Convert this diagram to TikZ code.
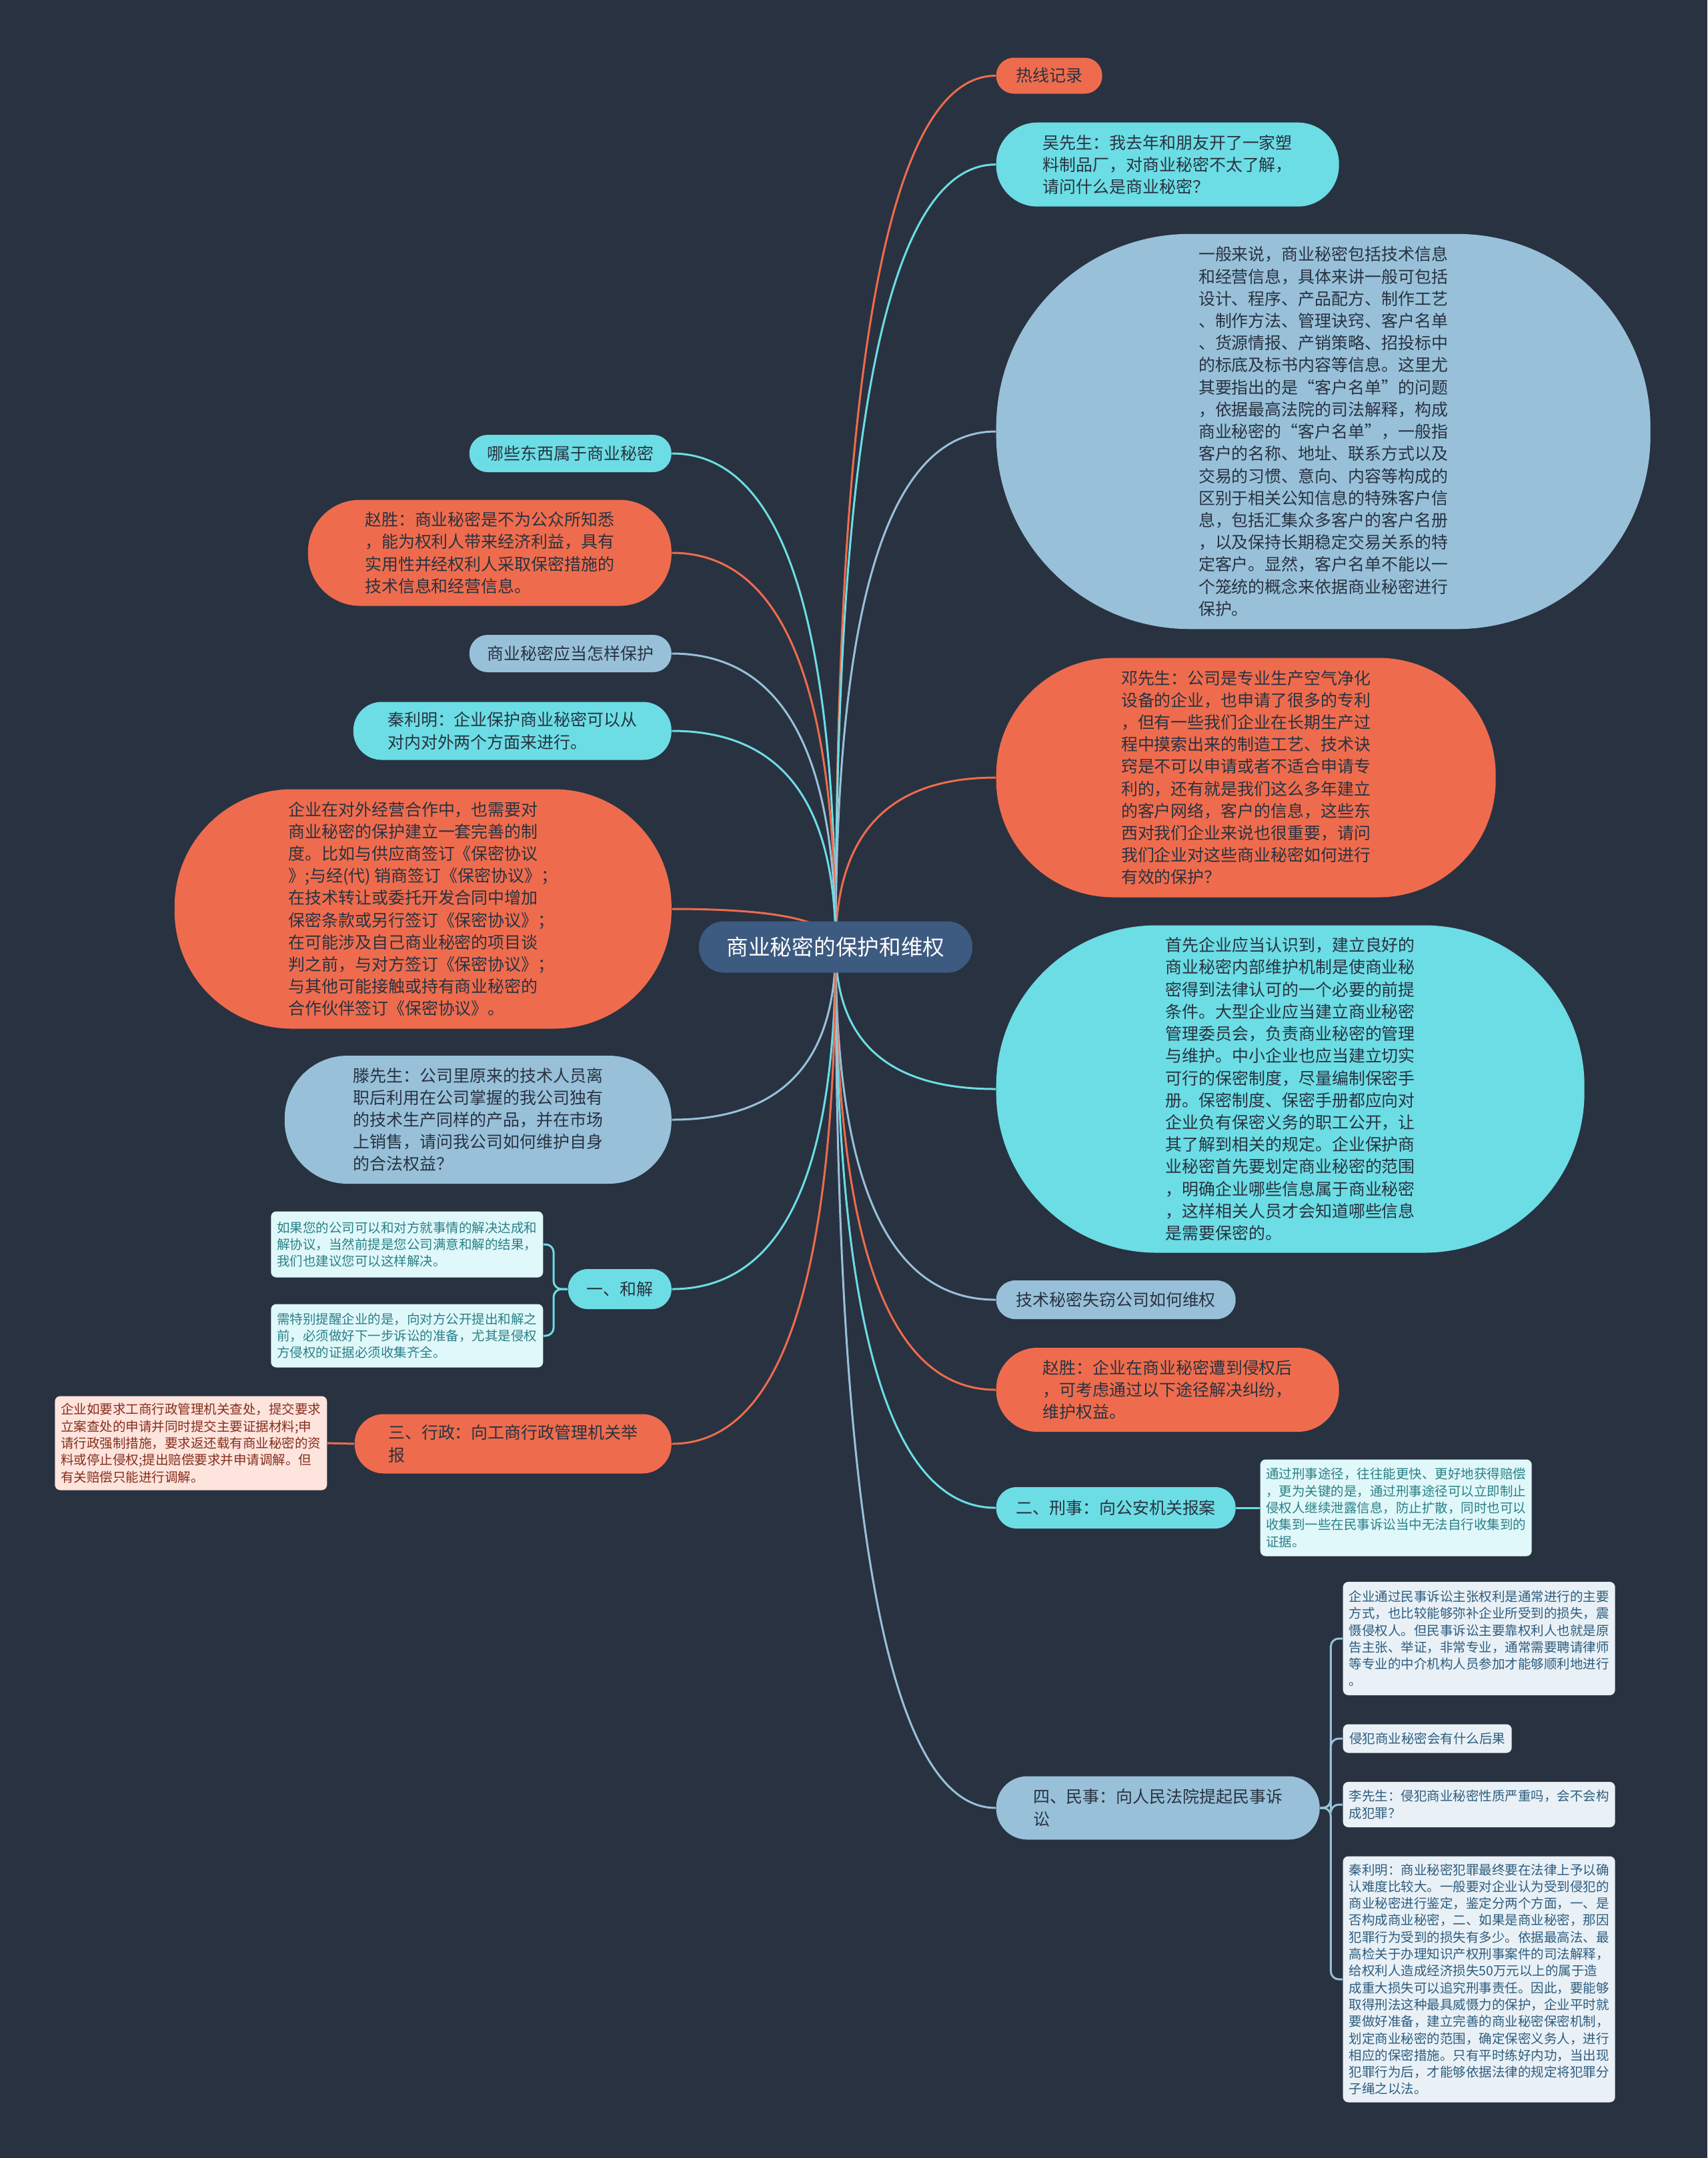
\documentclass[tikz,border=0pt]{standalone}
\usepackage{fontspec}
\setmainfont{Noto Sans CJK SC}
\usetikzlibrary{calc,backgrounds}

\definecolor{gunmetal}{HTML}{293241}
\definecolor{sienna}{HTML}{EE6C4D}
\definecolor{aqua}{HTML}{6CDDE4}
\definecolor{cerul}{HTML}{98C1D9}
\definecolor{bdazz}{HTML}{3D5A80}
\definecolor{ink}{HTML}{293241}
\definecolor{aqualt}{HTML}{E0F8FA}
\definecolor{aquatx}{HTML}{2A8087}
\definecolor{sienlt}{HTML}{FDE4DD}
\definecolor{sientx}{HTML}{862E1C}
\definecolor{cerult}{HTML}{E9F1F7}
\definecolor{cerutx}{HTML}{2E5D7E}

\newcommand\bubfont{\fontsize{7.1pt}{9.45pt}\selectfont}
\newcommand\leaffont{\fontsize{5.55pt}{7.2pt}\selectfont}
\newcommand\rootfont{\fontsize{9.3pt}{11pt}\selectfont}

\tikzset{
  bub/.style 2 args={fill=#1, text=ink, font=\bubfont, align=left, inner sep=0pt,
    minimum height=#2mm, rounded corners=#2*0.49mm},
  leaf/.style 2 args={fill=#1, text=#2, font=\leaffont, align=left, inner sep=0pt,
    rounded corners=0.8mm},
  link/.style={draw=#1, line width=0.3mm},
}

\begin{document}
\begin{tikzpicture}[x=1mm, y=-1mm]
 \useasboundingbox (0,0) rectangle (256,323.6);

 % centre
 \node[fill=bdazz, text=white, font=\rootfont, inner sep=0pt, minimum width=41mm,
   minimum height=7.7mm, rounded corners=3.75mm] (root) at (125.3,142) {商业秘密的保护和维权};

 % right branch
 \node[bub={sienna}{5.4}, minimum width=15.9mm, anchor=west] (hot) at (149.3,11.35) {热线记录};
 \node[bub={aqua}{12.6}, minimum width=51.4mm, anchor=west] (wu) at (149.3,24.67) {吴先生：我去年和朋友开了一家塑\\料制品厂，对商业秘密不太了解，\\请问什么是商业秘密？};
 \node[bub={cerul}{59.25}, minimum width=98.1mm, anchor=west] (yiban) at (149.3,64.7) {一般来说，商业秘密包括技术信息\\和经营信息，具体来讲一般可包括\\设计、程序、产品配方、制作工艺\\、制作方法、管理诀窍、客户名单\\、货源情报、产销策略、招投标中\\的标底及标书内容等信息。这里尤\\其要指出的是“客户名单”的问题\\，依据最高法院的司法解释，构成\\商业秘密的“客户名单”，一般指\\客户的名称、地址、联系方式以及\\交易的习惯、意向、内容等构成的\\区别于相关公知信息的特殊客户信\\息，包括汇集众多客户的客户名册\\，以及保持长期稳定交易关系的特\\定客户。显然，客户名单不能以一\\个笼统的概念来依据商业秘密进行\\保护。};
 \node[bub={sienna}{35.9}, minimum width=74.9mm, anchor=west] (deng) at (149.3,116.6) {邓先生：公司是专业生产空气净化\\设备的企业，也申请了很多的专利\\，但有一些我们企业在长期生产过\\程中摸索出来的制造工艺、技术诀\\窍是不可以申请或者不适合申请专\\利的，还有就是我们这么多年建立\\的客户网络，客户的信息，这些东\\西对我们企业来说也很重要，请问\\我们企业对这些商业秘密如何进行\\有效的保护？};
 \node[bub={aqua}{49.1}, minimum width=88.2mm, anchor=west] (shouxian) at (149.3,163.3) {首先企业应当认识到，建立良好的\\商业秘密内部维护机制是使商业秘\\密得到法律认可的一个必要的前提\\条件。大型企业应当建立商业秘密\\管理委员会，负责商业秘密的管理\\与维护。中小企业也应当建立切实\\可行的保密制度，尽量编制保密手\\册。保密制度、保密手册都应向对\\企业负有保密义务的职工公开，让\\其了解到相关的规定。企业保护商\\业秘密首先要划定商业秘密的范围\\，明确企业哪些信息属于商业秘密\\，这样相关人员才会知道哪些信息\\是需要保密的。};
 \node[bub={cerul}{5.8}, minimum width=35.9mm, anchor=west] (jishu) at (149.3,194.9) {技术秘密失窃公司如何维权};
 \node[bub={sienna}{12.6}, minimum width=51.4mm, anchor=west] (zhaoR) at (149.3,208.4) {赵胜：企业在商业秘密遭到侵权后\\，可考虑通过以下途径解决纠纷，\\维护权益。};
 \node[bub={aqua}{6.2}, minimum width=35.9mm, anchor=west] (xingshi) at (149.3,226.1) {二、刑事：向公安机关报案};
 \node[bub={cerul}{9.5}, minimum width=48.5mm, anchor=west] (minshi) at (149.3,271.1) {四、民事：向人民法院提起民事诉\\讼};

 % left branch
 \node[bub={aqua}{5.6}, minimum width=30.3mm, anchor=east] (naxie) at (100.75,68) {哪些东西属于商业秘密};
 \node[bub={sienna}{15.9}, minimum width=54.5mm, anchor=east] (zhaoL) at (100.75,82.9) {赵胜：商业秘密是不为公众所知悉\\，能为权利人带来经济利益，具有\\实用性并经权利人采取保密措施的\\技术信息和经营信息。};
 \node[bub={cerul}{5.6}, minimum width=30.3mm, anchor=east] (yingdang) at (100.75,98) {商业秘密应当怎样保护};
 \node[bub={aqua}{8.7}, minimum width=47.7mm, anchor=east] (qinL) at (100.75,109.6) {秦利明：企业保护商业秘密可以从\\对内对外两个方面来进行。};
 \node[bub={sienna}{35.9}, minimum width=74.5mm, anchor=east] (duiwai) at (100.75,136.3) {企业在对外经营合作中，也需要对\\商业秘密的保护建立一套完善的制\\度。比如与供应商签订《保密协议\\》;与经(代) 销商签订《保密协议》；\\在技术转让或委托开发合同中增加\\保密条款或另行签订《保密协议》；\\在可能涉及自己商业秘密的项目谈\\判之前，与对方签订《保密协议》；\\与其他可能接触或持有商业秘密的\\合作伙伴签订《保密协议》。};
 \node[bub={cerul}{19.2}, minimum width=58mm, anchor=east] (teng) at (100.75,167.9) {滕先生：公司里原来的技术人员离\\职后利用在公司掌握的我公司独有\\的技术生产同样的产品，并在市场\\上销售，请问我公司如何维护自身\\的合法权益？};
 \node[bub={aqua}{6}, minimum width=15.5mm, anchor=east] (hejie) at (100.75,193.3) {一、和解};
 \node[bub={sienna}{8.9}, minimum width=47.5mm, anchor=east] (xingzheng) at (100.75,216.5) {三、行政：向工商行政管理机关举\\报};

 % leaves
 \node[leaf={aqualt}{aquatx}, minimum width=40.7mm, minimum height=14.5mm, anchor=west] (xsleaf) at (188.9,226.1) {通过刑事途径，往往能更快、更好地获得赔偿\\，更为关键的是，通过刑事途径可以立即制止\\侵权人继续泄露信息，防止扩散，同时也可以\\收集到一些在民事诉讼当中无法自行收集到的\\证据。};
 \node[leaf={cerult}{cerutx}, minimum width=40.8mm, minimum height=17mm, anchor=west] (msa) at (201.3,245.7) {企业通过民事诉讼主张权利是通常进行的主要\\方式，也比较能够弥补企业所受到的损失，震\\慑侵权人。但民事诉讼主要靠权利人也就是原\\告主张、举证，非常专业，通常需要聘请律师\\等专业的中介机构人员参加才能够顺利地进行\\。};
 \node[leaf={cerult}{cerutx}, minimum width=25.3mm, minimum height=4.3mm, anchor=west] (msb) at (201.3,260.7) {侵犯商业秘密会有什么后果};
 \node[leaf={cerult}{cerutx}, minimum width=40.8mm, minimum height=6.8mm, anchor=west] (msc) at (201.3,270.6) {李先生：侵犯商业秘密性质严重吗，会不会构\\成犯罪？};
 \node[leaf={cerult}{cerutx}, minimum width=40.8mm, minimum height=36.9mm, anchor=west] (msd) at (201.3,296.8) {秦利明：商业秘密犯罪最终要在法律上予以确\\认难度比较大。一般要对企业认为受到侵犯的\\商业秘密进行鉴定，鉴定分两个方面，一、是\\否构成商业秘密，二、如果是商业秘密，那因\\犯罪行为受到的损失有多少。依据最高法、最\\高检关于办理知识产权刑事案件的司法解释，\\给权利人造成经济损失50万元以上的属于造\\成重大损失可以追究刑事责任。因此，要能够\\取得刑法这种最具威慑力的保护，企业平时就\\要做好准备，建立完善的商业秘密保密机制，\\划定商业秘密的范围，确定保密义务人，进行\\相应的保密措施。只有平时练好内功，当出现\\犯罪行为后，才能够依据法律的规定将犯罪分\\子绳之以法。};
 \node[leaf={aqualt}{aquatx}, minimum width=40.8mm, minimum height=9.9mm, anchor=east] (hja) at (81.5,186.6) {如果您的公司可以和对方就事情的解决达成和\\解协议，当然前提是您公司满意和解的结果，\\我们也建议您可以这样解决。};
 \node[leaf={aqualt}{aquatx}, minimum width=40.8mm, minimum height=9.5mm, anchor=east] (hjb) at (81.5,200.3) {需特别提醒企业的是，向对方公开提出和解之\\前，必须做好下一步诉讼的准备，尤其是侵权\\方侵权的证据必须收集齐全。};
 \node[leaf={sienlt}{sientx}, minimum width=40.8mm, minimum height=14.1mm, anchor=east] (xzleaf) at (49.1,216.4) {企业如要求工商行政管理机关查处，提交要求\\立案查处的申请并同时提交主要证据材料;申\\请行政强制措施，要求返还载有商业秘密的资\\料或停止侵权;提出赔偿要求并申请调解。但\\有关赔偿只能进行调解。};

 \coordinate (hjfork) at ($(hejie.west)+(-2.1,0)$);
 \coordinate (msfork) at ($(minshi.east)+(1.6,0)$);

 \begin{pgfonlayer}{background}
  \fill[gunmetal] (0,0) rectangle (256,323.6);
  % root to first level
  \foreach \n/\c in {hot/sienna, wu/aqua, yiban/cerul, deng/sienna, shouxian/aqua,
      jishu/cerul, zhaoR/sienna, xingshi/aqua, minshi/cerul}
    \draw[link=\c] (root.center) .. controls ($(root.center)!.67!(root.center |- \n.west)$)
      and ($(\n.west)!.67!(root.center |- \n.west)$) .. (\n.west);
  \foreach \n/\c in {naxie/aqua, zhaoL/sienna, yingdang/cerul, qinL/aqua, duiwai/sienna,
      teng/cerul, hejie/aqua, xingzheng/sienna}
    \draw[link=\c] (root.center) .. controls ($(root.center)!.67!(root.center |- \n.east)$)
      and ($(\n.east)!.67!(root.center |- \n.east)$) .. (\n.east);
  % second level
  \draw[link=aqua] (xingshi.east) -- (xsleaf.west);
  \draw[link=sienna] (xingzheng.west) -- (xzleaf.east);
  \foreach \n in {hja, hjb}
    \draw[link=aqua, rounded corners=1.2mm] (hejie.west) -- (hjfork) |- (\n.east);
  \foreach \n in {msa, msb, msc, msd}
    \draw[link=cerul, rounded corners=1.2mm] (minshi.east) -- (msfork) |- (\n.west);
 \end{pgfonlayer}
\end{tikzpicture}
\end{document}
